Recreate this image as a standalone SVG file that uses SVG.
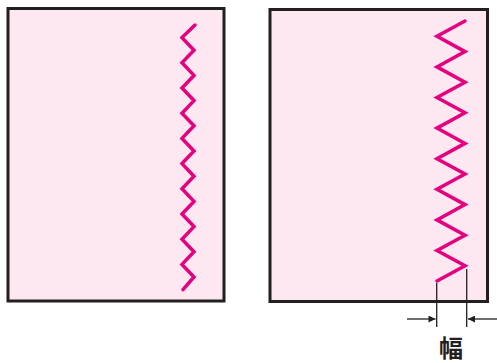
<svg xmlns="http://www.w3.org/2000/svg" width="497" height="363" viewBox="0 0 497 363">
<defs>
<style>
.panel{fill:#fde7f0;stroke:#231f20;stroke-width:3}
.zig{fill:none;stroke:#e4007f;stroke-width:3.5;stroke-linejoin:miter;stroke-linecap:round}
.dim{fill:none;stroke:#231f20;stroke-width:1.3}
.lbl{font-family:"Noto Sans CJK JP","Noto Sans CJK SC",sans-serif;font-size:24px;font-weight:700;fill:#231f20;text-anchor:middle}
</style>
<marker id="ah" viewBox="0 0 10 10" refX="10" refY="5" markerWidth="9" markerHeight="7" markerUnits="userSpaceOnUse" orient="auto">
<path d="M0,0 L10,5 L0,10 Z" fill="#231f20"/>
</marker>
</defs>
<g id="panel-narrow">
<rect class="panel" x="8" y="8.5" width="216" height="292.5"/>
<polyline class="zig" points="195,25 182,37.6 194,50.2 182,62.8 194,75.4 182,88 194,100.6 182,113.2 194,125.8 182,138.4 194,151 182,163.6 194,176.2 182,188.8 194,201.4 182,214 194,226.6 182,239.2 194,251.8 182,264.4 194,277 183,289.6"/>
</g>
<g id="panel-wide">
<rect class="panel" x="270" y="9.5" width="217.5" height="292"/>
<polyline class="zig" points="465,21 437,36.3 465,51.6 437,66.9 465,82.2 437,97.5 465,112.8 437,128.1 465,143.4 437,158.7 465,174 437,189.3 465,204.6 437,219.9 465,235.2 437,250.5 465,265.8 437,281"/>
</g>
<g id="connectors">
<line class="dim" x1="436.7" y1="283" x2="436.7" y2="327"/>
<line class="dim" x1="466.7" y1="269" x2="466.7" y2="327"/>
<line class="dim" x1="407" y1="319" x2="435.5" y2="319" marker-end="url(#ah)"/>
<line class="dim" x1="497" y1="319" x2="468" y2="319" marker-end="url(#ah)"/>
</g>
<g id="label-width">
<text class="lbl" x="451" y="357">幅</text>
</g>
</svg>
